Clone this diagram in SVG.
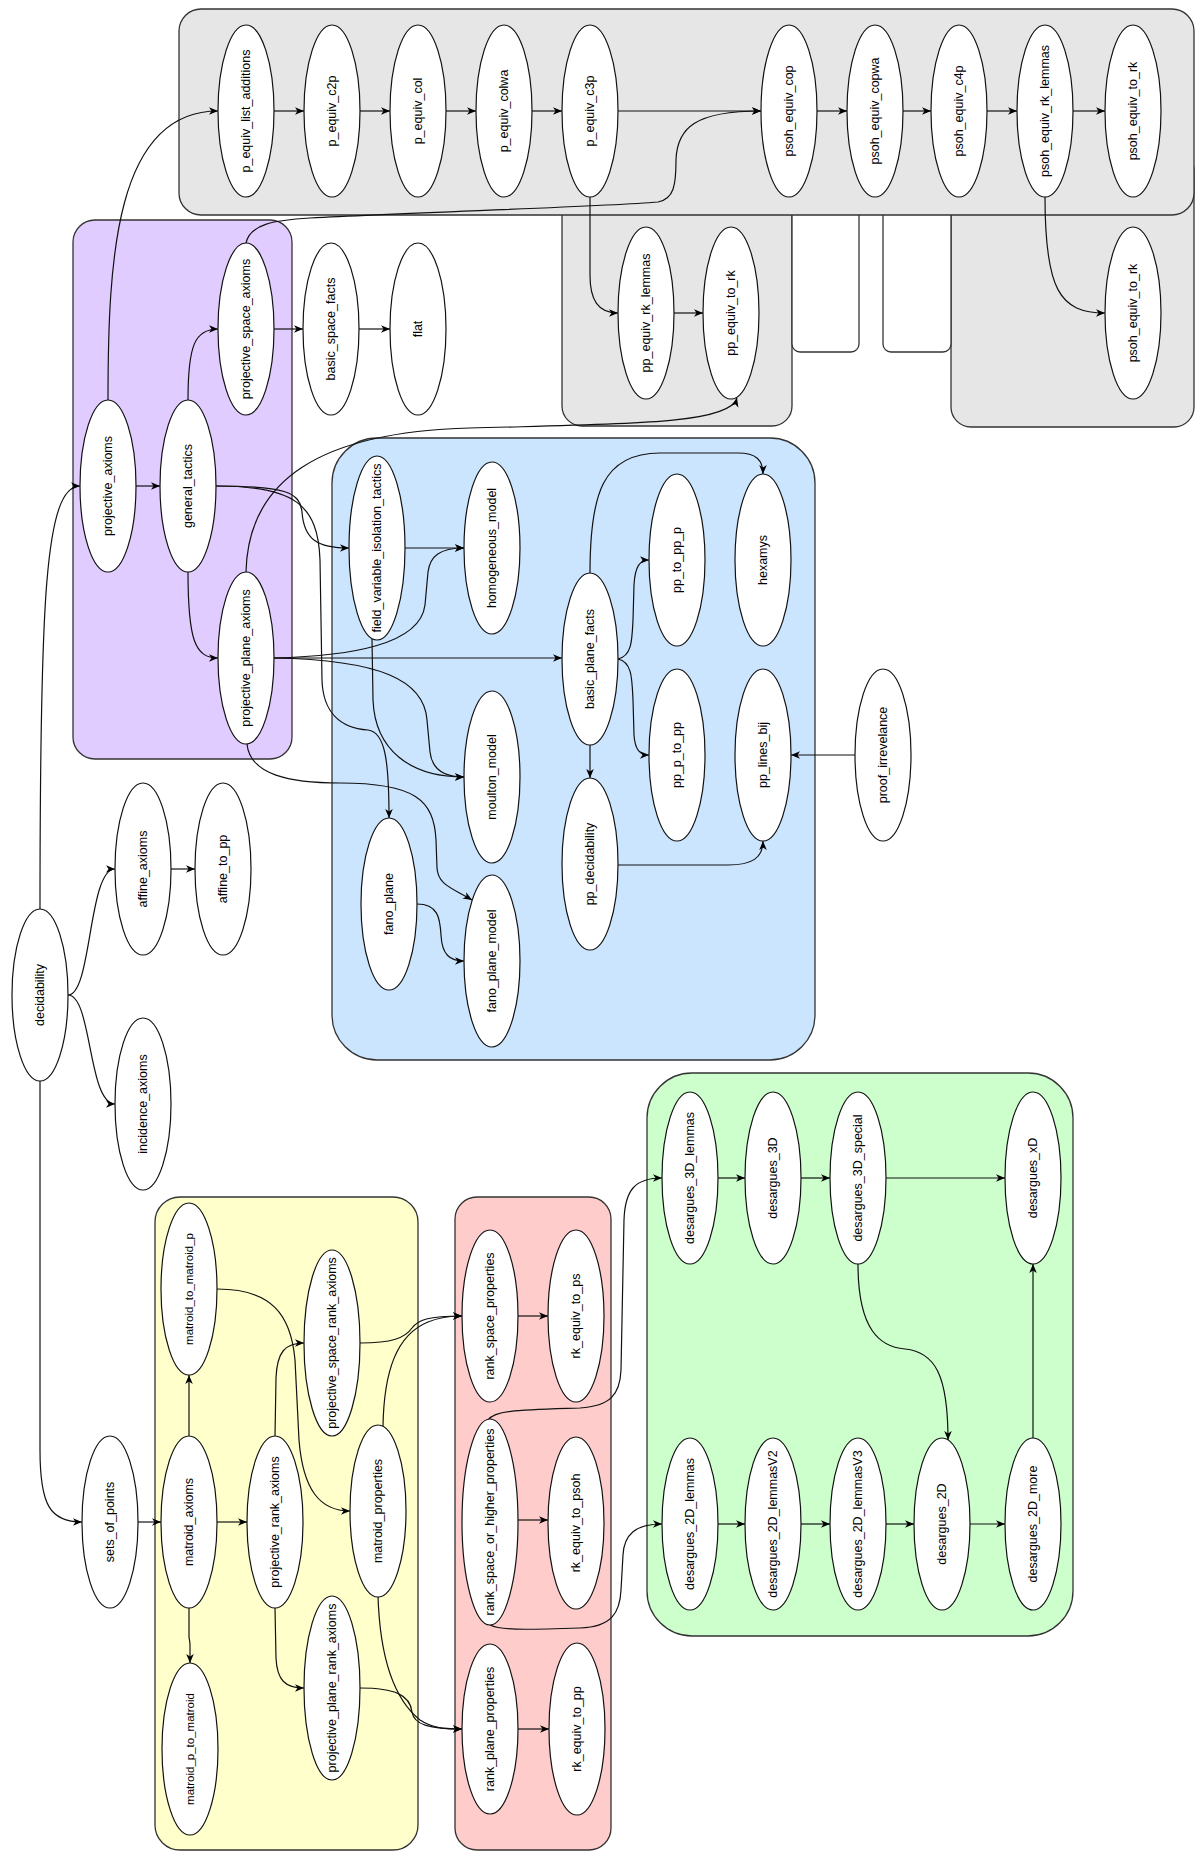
<svg xmlns="http://www.w3.org/2000/svg" width="1198" height="1852" viewBox="0 0 1198 1852">
<defs>
<style>
.c{stroke:#333;stroke-width:1.3}
.n ellipse{fill:#fff;stroke:#111;stroke-width:1.2}
.n text{font-family:"Liberation Sans",Arial,sans-serif;font-size:12.5px;fill:#000;text-anchor:middle;dominant-baseline:central}
.e path{fill:none;stroke:#111;stroke-width:1.2;marker-end:url(#a)}
</style>
<marker id="a" viewBox="0 0 10 10" refX="10" refY="5" markerWidth="9" markerHeight="9" markerUnits="userSpaceOnUse" orient="auto">
<path d="M0,0.8 L10,5 L0,9.2 L2.8,5 z" fill="#000"/>
</marker>
</defs>
<rect width="1198" height="1852" fill="#fff"/>
<g id="containers">
<rect class="c" x="562" y="150" width="230" height="276" rx="20" fill="#e6e6e6"/>
<rect class="c" x="951" y="150" width="243" height="277" rx="20" fill="#e6e6e6"/>
<rect class="c" x="792" y="200" width="67" height="152" rx="8" fill="#fff"/>
<rect class="c" x="883" y="200" width="68" height="152" rx="8" fill="#fff"/>
<rect class="c" x="179" y="9" width="1015" height="206" rx="22" fill="#e6e6e6"/>
<rect class="c" x="73" y="220" width="219" height="539" rx="22" fill="#e1ccff"/>
<rect class="c" x="332" y="438" width="483" height="622" rx="45" fill="#cce5ff"/>
<rect class="c" x="155" y="1197" width="263" height="653" rx="25" fill="#ffffcc"/>
<rect class="c" x="455" y="1197" width="156" height="653" rx="22" fill="#ffcccc"/>
<rect class="c" x="647" y="1073" width="426" height="563" rx="45" fill="#ccffcc"/>
</g>
<g id="edges" class="e">
<path d="M40 909 C40 600 45 486 80 486"/>
<path d="M40 1081 L40 1450 C40 1505 50 1522 82 1522"/>
<path d="M68 995 C92 995 88 869 115 869"/>
<path d="M68 995 C92 995 88 1104 115 1104"/>
<path d="M171 869 L195 869"/>
<path d="M136 486 L160 486"/>
<path d="M108 400 C108 260 115 111 218 111"/>
<path d="M188 400 C188 345 195 329 218 329"/>
<path d="M188 572 C188 640 195 658 218 658"/>
<path d="M216 486 C285 486 300 492 302 512 C304 540 318 548 349 548"/>
<path d="M216 486 C295 486 318 505 320 560 L322 680 C323 712 340 728 368 730 C385 732 389 760 389 818"/>
<path d="M274 329 L303 329"/>
<path d="M359 329 L390 329"/>
<path d="M246 243 C250 224 275 220 310 218 C420 212 600 207 658 202 C674 199 676 185 676 160 C677 128 695 111 761 111"/>
<path d="M274 111 L304 111"/>
<path d="M360 111 L390 111"/>
<path d="M446 111 L476 111"/>
<path d="M532 111 L562 111"/>
<path d="M618 111 L761 111"/>
<path d="M590 197 L590 275 C590 300 598 313 618 313"/>
<path d="M674 313 L703 313"/>
<path d="M817 111 L847 111"/>
<path d="M903 111 L931 111"/>
<path d="M987 111 L1017 111"/>
<path d="M1073 111 L1105 111"/>
<path d="M1045 197 C1045 290 1060 313 1105 313"/>
<path d="M246 572 C248 480 320 432 470 428 C620 424 730 425 737 398"/>
<path d="M274 658 C350 656 420 645 425 605 L428 572 C430 556 440 548 464 548"/>
<path d="M274 658 L562 658"/>
<path d="M274 658 C380 660 424 680 427 720 L430 752 C432 770 445 777 464 777"/>
<path d="M247 744 C250 775 290 783 340 783 C415 783 434 800 436 840 L437 868 C438 885 452 888 472 900"/>
<path d="M405 548 L464 548"/>
<path d="M372 639 L373 700 C375 750 410 777 464 777"/>
<path d="M417 904 C438 904 440 918 441 935 C442 955 450 961 464 961"/>
<path d="M618 659 C632 656 632 640 633 620 L634 585 C635 566 640 560 649 560"/>
<path d="M618 659 C632 662 632 678 633 700 L634 735 C635 750 640 755 649 755"/>
<path d="M590 573 C590 495 602 453 660 453 L738 453 C756 453 763 460 763 474"/>
<path d="M590 745 L590 778"/>
<path d="M618 865 L728 865 C752 865 763 858 763 841"/>
<path d="M855 755 L791 755"/>
<path d="M138 1522 L161 1522"/>
<path d="M189 1436 L189 1375"/>
<path d="M189 1608 L189 1636 C189 1640 190 1640 190 1645 L190 1663"/>
<path d="M217 1522 L247 1522"/>
<path d="M217 1289 C272 1289 291 1315 295 1360 L299 1440 C303 1490 320 1511 350 1511"/>
<path d="M275 1436 L276 1378 C277 1352 285 1343 304 1343"/>
<path d="M275 1608 L276 1658 C277 1680 285 1688 304 1688"/>
<path d="M360 1343 C392 1343 405 1338 412 1328 C418 1320 428 1316 462 1316"/>
<path d="M383 1426 C384 1372 396 1335 428 1322 C440 1317 450 1316 462 1316"/>
<path d="M378 1596 C380 1660 395 1700 420 1720 C432 1728 445 1729 462 1729"/>
<path d="M360 1688 C395 1688 410 1695 412 1712 C414 1725 430 1729 462 1729"/>
<path d="M518 1316 L548 1316"/>
<path d="M518 1520 L548 1520"/>
<path d="M518 1729 L549 1729"/>
<path d="M488 1420 C495 1410 520 1410 580 1408 C610 1406 620 1395 621 1370 L624 1220 C625 1190 635 1178 662 1178"/>
<path d="M490 1625 C500 1630 520 1630 580 1628 C612 1627 620 1612 621 1590 L623 1555 C624 1535 635 1524 662 1524"/>
<path d="M718 1178 L745 1178"/>
<path d="M801 1178 L830 1178"/>
<path d="M886 1178 L1005 1178"/>
<path d="M718 1524 L745 1524"/>
<path d="M801 1524 L830 1524"/>
<path d="M886 1524 L914 1524"/>
<path d="M970 1524 L1005 1524"/>
<path d="M1033 1438 L1033 1264"/>
<path d="M858 1264 C858 1330 880 1347 905 1349 C935 1352 948 1375 948 1440"/>
</g>
<g id="n_p_equiv_list_additions" class="n"><ellipse cx="246" cy="111" rx="28" ry="86"/><text transform="translate(246 111) rotate(-90)">p_equiv_list_additions</text></g>
<g id="n_p_equiv_c2p" class="n"><ellipse cx="332" cy="111" rx="28" ry="86"/><text transform="translate(332 111) rotate(-90)">p_equiv_c2p</text></g>
<g id="n_p_equiv_col" class="n"><ellipse cx="418" cy="111" rx="28" ry="86"/><text transform="translate(418 111) rotate(-90)">p_equiv_col</text></g>
<g id="n_p_equiv_colwa" class="n"><ellipse cx="504" cy="111" rx="28" ry="86"/><text transform="translate(504 111) rotate(-90)">p_equiv_colwa</text></g>
<g id="n_p_equiv_c3p" class="n"><ellipse cx="590" cy="111" rx="28" ry="86"/><text transform="translate(590 111) rotate(-90)">p_equiv_c3p</text></g>
<g id="n_psoh_equiv_cop" class="n"><ellipse cx="789" cy="111" rx="28" ry="86"/><text transform="translate(789 111) rotate(-90)">psoh_equiv_cop</text></g>
<g id="n_psoh_equiv_copwa" class="n"><ellipse cx="875" cy="111" rx="28" ry="86"/><text transform="translate(875 111) rotate(-90)">psoh_equiv_copwa</text></g>
<g id="n_psoh_equiv_c4p" class="n"><ellipse cx="959" cy="111" rx="28" ry="86"/><text transform="translate(959 111) rotate(-90)">psoh_equiv_c4p</text></g>
<g id="n_psoh_equiv_rk_lemmas" class="n"><ellipse cx="1045" cy="111" rx="28" ry="86"/><text transform="translate(1045 111) rotate(-90)">psoh_equiv_rk_lemmas</text></g>
<g id="n_psoh_equiv_to_rk" class="n"><ellipse cx="1133" cy="111" rx="28" ry="86"/><text transform="translate(1133 111) rotate(-90)">psoh_equiv_to_rk</text></g>
<g id="n_pp_equiv_rk_lemmas" class="n"><ellipse cx="646" cy="313" rx="28" ry="86"/><text transform="translate(646 313) rotate(-90)">pp_equiv_rk_lemmas</text></g>
<g id="n_pp_equiv_to_rk" class="n"><ellipse cx="731" cy="313" rx="28" ry="86"/><text transform="translate(731 313) rotate(-90)">pp_equiv_to_rk</text></g>
<g id="n_psoh_equiv_to_rk_2" class="n"><ellipse cx="1133" cy="313" rx="28" ry="86"/><text transform="translate(1133 313) rotate(-90)">psoh_equiv_to_rk</text></g>
<g id="n_projective_axioms" class="n"><ellipse cx="108" cy="486" rx="28" ry="86"/><text transform="translate(108 486) rotate(-90)">projective_axioms</text></g>
<g id="n_general_tactics" class="n"><ellipse cx="188" cy="486" rx="28" ry="86"/><text transform="translate(188 486) rotate(-90)">general_tactics</text></g>
<g id="n_projective_space_axioms" class="n"><ellipse cx="246" cy="329" rx="28" ry="86"/><text transform="translate(246 329) rotate(-90)">projective_space_axioms</text></g>
<g id="n_projective_plane_axioms" class="n"><ellipse cx="246" cy="658" rx="28" ry="86"/><text transform="translate(246 658) rotate(-90)">projective_plane_axioms</text></g>
<g id="n_basic_space_facts" class="n"><ellipse cx="331" cy="329" rx="28" ry="86"/><text transform="translate(331 329) rotate(-90)">basic_space_facts</text></g>
<g id="n_flat" class="n"><ellipse cx="418" cy="329" rx="28" ry="86"/><text transform="translate(418 329) rotate(-90)">flat</text></g>
<g id="n_field_variable_isolation_tactics" class="n"><ellipse cx="377" cy="548" rx="28" ry="92"/><text transform="translate(377 548) rotate(-90)">field_variable_isolation_tactics</text></g>
<g id="n_homogeneous_model" class="n"><ellipse cx="492" cy="548" rx="28" ry="86"/><text transform="translate(492 548) rotate(-90)">homogeneous_model</text></g>
<g id="n_basic_plane_facts" class="n"><ellipse cx="590" cy="659" rx="28" ry="86"/><text transform="translate(590 659) rotate(-90)">basic_plane_facts</text></g>
<g id="n_pp_to_pp_p" class="n"><ellipse cx="677" cy="560" rx="28" ry="86"/><text transform="translate(677 560) rotate(-90)">pp_to_pp_p</text></g>
<g id="n_hexamys" class="n"><ellipse cx="763" cy="560" rx="28" ry="86"/><text transform="translate(763 560) rotate(-90)">hexamys</text></g>
<g id="n_moulton_model" class="n"><ellipse cx="492" cy="777" rx="28" ry="86"/><text transform="translate(492 777) rotate(-90)">moulton_model</text></g>
<g id="n_pp_p_to_pp" class="n"><ellipse cx="677" cy="755" rx="28" ry="86"/><text transform="translate(677 755) rotate(-90)">pp_p_to_pp</text></g>
<g id="n_pp_lines_bij" class="n"><ellipse cx="763" cy="755" rx="28" ry="86"/><text transform="translate(763 755) rotate(-90)">pp_lines_bij</text></g>
<g id="n_pp_decidability" class="n"><ellipse cx="590" cy="864" rx="28" ry="86"/><text transform="translate(590 864) rotate(-90)">pp_decidability</text></g>
<g id="n_fano_plane" class="n"><ellipse cx="389" cy="904" rx="28" ry="86"/><text transform="translate(389 904) rotate(-90)">fano_plane</text></g>
<g id="n_fano_plane_model" class="n"><ellipse cx="492" cy="961" rx="28" ry="86"/><text transform="translate(492 961) rotate(-90)">fano_plane_model</text></g>
<g id="n_proof_irrevelance" class="n"><ellipse cx="883" cy="755" rx="28" ry="86"/><text transform="translate(883 755) rotate(-90)">proof_irrevelance</text></g>
<g id="n_decidability" class="n"><ellipse cx="40" cy="995" rx="28" ry="86"/><text transform="translate(40 995) rotate(-90)">decidability</text></g>
<g id="n_affine_axioms" class="n"><ellipse cx="143" cy="869" rx="28" ry="86"/><text transform="translate(143 869) rotate(-90)">affine_axioms</text></g>
<g id="n_affine_to_pp" class="n"><ellipse cx="223" cy="869" rx="28" ry="86"/><text transform="translate(223 869) rotate(-90)">affine_to_pp</text></g>
<g id="n_incidence_axioms" class="n"><ellipse cx="143" cy="1104" rx="28" ry="86"/><text transform="translate(143 1104) rotate(-90)">incidence_axioms</text></g>
<g id="n_sets_of_points" class="n"><ellipse cx="110" cy="1522" rx="28" ry="86"/><text transform="translate(110 1522) rotate(-90)">sets_of_points</text></g>
<g id="n_matroid_to_matroid_p" class="n"><ellipse cx="189" cy="1289" rx="28" ry="86"/><text transform="translate(189 1289) rotate(-90)" style="font-size:11.5px">matroid_to_matroid_p</text></g>
<g id="n_matroid_axioms" class="n"><ellipse cx="189" cy="1522" rx="28" ry="86"/><text transform="translate(189 1522) rotate(-90)">matroid_axioms</text></g>
<g id="n_projective_rank_axioms" class="n"><ellipse cx="275" cy="1522" rx="28" ry="86"/><text transform="translate(275 1522) rotate(-90)">projective_rank_axioms</text></g>
<g id="n_projective_space_rank_axioms" class="n"><ellipse cx="332" cy="1343" rx="28" ry="93"/><text transform="translate(332 1343) rotate(-90)">projective_space_rank_axioms</text></g>
<g id="n_matroid_properties" class="n"><ellipse cx="378" cy="1511" rx="28" ry="86"/><text transform="translate(378 1511) rotate(-90)">matroid_properties</text></g>
<g id="n_matroid_p_to_matroid" class="n"><ellipse cx="190" cy="1749" rx="28" ry="86"/><text transform="translate(190 1749) rotate(-90)" style="font-size:11.5px">matroid_p_to_matroid</text></g>
<g id="n_projective_plane_rank_axioms" class="n"><ellipse cx="332" cy="1688" rx="28" ry="92"/><text transform="translate(332 1688) rotate(-90)">projective_plane_rank_axioms</text></g>
<g id="n_rank_space_properties" class="n"><ellipse cx="490" cy="1316" rx="28" ry="86"/><text transform="translate(490 1316) rotate(-90)">rank_space_properties</text></g>
<g id="n_rk_equiv_to_ps" class="n"><ellipse cx="576" cy="1316" rx="28" ry="86"/><text transform="translate(576 1316) rotate(-90)">rk_equiv_to_ps</text></g>
<g id="n_rank_space_or_higher_properties" class="n"><ellipse cx="490" cy="1522" rx="28" ry="103"/><text transform="translate(490 1522) rotate(-90)">rank_space_or_higher_properties</text></g>
<g id="n_rk_equiv_to_psoh" class="n"><ellipse cx="576" cy="1523" rx="28" ry="86"/><text transform="translate(576 1523) rotate(-90)">rk_equiv_to_psoh</text></g>
<g id="n_rank_plane_properties" class="n"><ellipse cx="490" cy="1729" rx="28" ry="85"/><text transform="translate(490 1729) rotate(-90)">rank_plane_properties</text></g>
<g id="n_rk_equiv_to_pp" class="n"><ellipse cx="577" cy="1729" rx="28" ry="86"/><text transform="translate(577 1729) rotate(-90)">rk_equiv_to_pp</text></g>
<g id="n_desargues_3D_lemmas" class="n"><ellipse cx="690" cy="1178" rx="28" ry="86"/><text transform="translate(690 1178) rotate(-90)">desargues_3D_lemmas</text></g>
<g id="n_desargues_3D" class="n"><ellipse cx="773" cy="1178" rx="28" ry="86"/><text transform="translate(773 1178) rotate(-90)">desargues_3D</text></g>
<g id="n_desargues_3D_special" class="n"><ellipse cx="858" cy="1178" rx="28" ry="86"/><text transform="translate(858 1178) rotate(-90)">desargues_3D_special</text></g>
<g id="n_desargues_xD" class="n"><ellipse cx="1033" cy="1178" rx="28" ry="86"/><text transform="translate(1033 1178) rotate(-90)">desargues_xD</text></g>
<g id="n_desargues_2D_lemmas" class="n"><ellipse cx="690" cy="1524" rx="28" ry="86"/><text transform="translate(690 1524) rotate(-90)">desargues_2D_lemmas</text></g>
<g id="n_desargues_2D_lemmasV2" class="n"><ellipse cx="773" cy="1524" rx="28" ry="86"/><text transform="translate(773 1524) rotate(-90)">desargues_2D_lemmasV2</text></g>
<g id="n_desargues_2D_lemmasV3" class="n"><ellipse cx="858" cy="1524" rx="28" ry="86"/><text transform="translate(858 1524) rotate(-90)">desargues_2D_lemmasV3</text></g>
<g id="n_desargues_2D" class="n"><ellipse cx="942" cy="1524" rx="28" ry="86"/><text transform="translate(942 1524) rotate(-90)">desargues_2D</text></g>
<g id="n_desargues_2D_more" class="n"><ellipse cx="1033" cy="1524" rx="28" ry="86"/><text transform="translate(1033 1524) rotate(-90)">desargues_2D_more</text></g>
</svg>
